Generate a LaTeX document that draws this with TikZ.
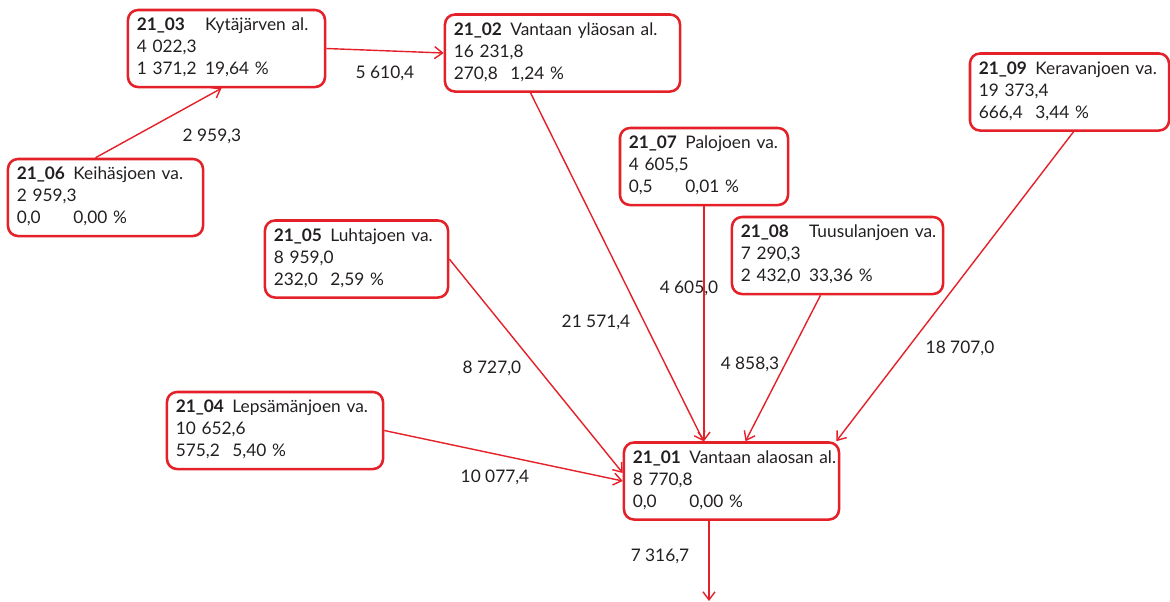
\documentclass[tikz,border=0pt]{standalone}
\usepackage{fontspec}
\setmainfont{Lato}
\usepackage{tikz}
\usetikzlibrary{arrows.meta, positioning, calc}
\definecolor{flowred}{RGB}{228,32,40}
\definecolor{flowtext}{RGB}{35,31,32}
\newcommand{\basin}[5]{%
	\begin{tabular}{@{}l@{\hspace{6pt}}l@{}}
		\textbf{#1} & #2\\
		\multicolumn{2}{@{}l@{}}{#3}\\
		#4 & #5
	\end{tabular}}
\tikzset{
	basin/.style={rectangle, rounded corners=0.25cm, draw=flowred, line width=1.8pt,
		text=flowtext, inner xsep=0.22cm, inner ysep=0pt, minimum height=1.925cm, align=left},
	flow/.style={draw=flowred, line width=1pt, -{Straight Barb[length=0.2cm,width=0.3cm]}},
	amount/.style={text=flowtext, inner sep=0pt}
}

\begin{document}
\begin{tikzpicture}[x=0.025cm,y=-0.025cm,font=\fontsize{12.3}{15.6}\selectfont]
	\useasboundingbox (0,0) rectangle (1170,601);
	% Basins
	\node[basin, text width=4.485cm] (b03) at (226.5,48.5) {\basin{21\_03}{Kytäjärven al.}{4 022,3}{1 371,2}{19,64 \%}};
	\node[basin, text width=5.435cm] (b02) at (562.5,53) {\basin{21\_02}{Vantaan yläosan al.}{16 231,8}{270,8}{1,24 \%}};
	\node[basin, text width=4.435cm] (b06) at (105.5,197.5) {\basin{21\_06}{Keihäsjoen va.}{2 959,3}{0,0}{0,00 \%}};
	\node[basin, text width=4.535cm] (b09) at (1069.5,92) {\basin{21\_09}{Keravanjoen va.}{19 373,4}{666,4}{3,44 \%}};
	\node[basin, text width=3.76cm] (b07) at (704,166.5) {\basin{21\_07}{Palojoen va.}{4 605,5}{0,5}{0,01 \%}};
	\node[basin, text width=4.135cm] (b05) at (356.5,259) {\basin{21\_05}{Luhtajoen va.}{8 959,0}{232,0}{2,59 \%}};
	\node[basin, text width=4.835cm] (b08) at (837.5,255.5) {\basin{21\_08}{Tuusulanjoen va.}{7 290,3}{2 432,0}{33,36 \%}};
	\node[basin, text width=4.96cm] (b04) at (275,430.5) {\basin{21\_04}{Lepsämänjoen va.}{10 652,6}{575,2}{5,40 \%}};
	\node[basin, text width=4.935cm] (b01) at (731.5,481) {\basin{21\_01}{Vantaan alaosan al.}{8 770,8}{0,0}{0,00 \%}};
	\coordinate (outlet) at (709,601);

	% Flows
	\draw[flow] (b03.east) -- (b02.west);
	\draw[flow] ($(b06.north)+(-10,0)$) -- ($(b03.south)+(-5,0)$);
	\draw[flow] ($(b02.south)+(-32,0)$) -- ($(b01.north)+(-28,0)$);
	\draw[flow] (b07.south) -- (b07.south |- b01.north);
	\draw[flow] ($(b08.south)+(-17,0)$) -- ($(b01.north)+(14,0)$);
	\draw[flow] ($(b09.south)+(4,0)$) -- ($(b01.north east)+(-4,0)$);
	\draw[flow] (b05.east) -- ($(b01.west)+(0,-8)$);
	\draw[flow] (b04.east) -- (b01.west);
	\draw[flow] (b01.south -| outlet) -- (outlet);

	% Amounts
	\foreach \name/\pos/\txt in {q03/{(385,73)}/{5 610,4}, q06/{(212,136)}/{2 959,3},
		q02/{(596,322)}/{21 571,4}, q07/{(689,288)}/{4 605,0}, q08/{(750,364)}/{4 858,3},
		q09/{(960,348)}/{18 707,0}, q05/{(492,368)}/{8 727,0}, q04/{(495,477)}/{10 077,4},
		q01/{(660,556)}/{7 316,7}}
		\node[amount] (\name) at \pos {\txt};
\end{tikzpicture}
\end{document}
